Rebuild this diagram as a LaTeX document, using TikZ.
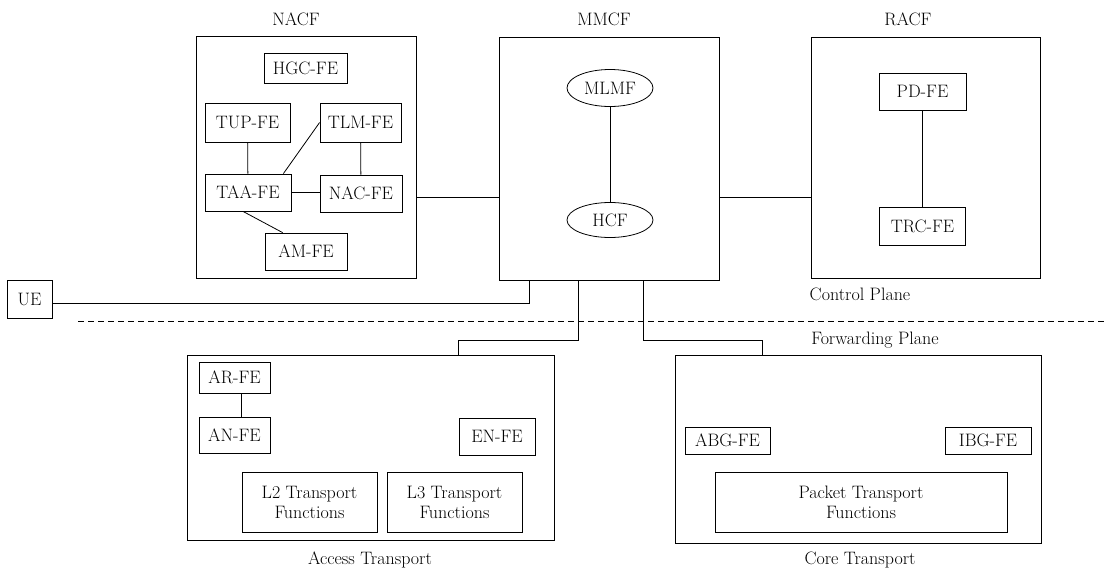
\documentclass[tikz,border=0pt]{standalone}
\usetikzlibrary{shapes.geometric,calc}
\begin{document}
\begin{tikzpicture}[x=1pt,y=-1pt,
  every node/.style={font=\fontsize{18}{20}\selectfont, inner sep=0pt},
  fe/.style={draw, line width=0.8pt, align=center},
  group/.style={draw, line width=0.8pt},
  ell/.style={draw, ellipse, line width=0.8pt},
  link/.style={line width=0.8pt},
  lbl/.style={}]
\useasboundingbox (0,0) rectangle (1105,570);
% control plane groups
\node[group, minimum width=220, minimum height=242] (NACF) at (306.5,157.5) {};
\node[group, minimum width=220, minimum height=243] (MMCF) at (609,158.5) {};
\node[group, minimum width=229, minimum height=241] (RACF) at (925.5,157.5) {};
\node[lbl] (nacfl) at (296,19) {NACF};
\node[lbl] (mmcfl) at (604,19) {MMCF};
\node[lbl] (racfl) at (908,19) {RACF};
% NACF contents
\node[fe, minimum width=83, minimum height=30] (HGC) at (305.5,68) {HGC-FE};
\node[fe, minimum width=85, minimum height=39] (TUP) at (247.5,122.5) {TUP-FE};
\node[fe, minimum width=81, minimum height=39] (TLM) at (360.5,122.5) {TLM-FE};
\node[fe, minimum width=86, minimum height=37] (TAA) at (248,192.5) {TAA-FE};
\node[fe, minimum width=82, minimum height=37] (NAC) at (361,193.5) {NAC-FE};
\node[fe, minimum width=82, minimum height=37] (AM) at (306,251.5) {AM-FE};
\draw[link] (TUP) -- (TAA);
\draw[link] (TLM.west) -- ($(TAA.north east)+(-8,0)$);
\draw[link] (TLM) -- (NAC);
\draw[link] (TAA.east) -- (NAC.west |- TAA.east);
\draw[link] ($(TAA.south)+(-5,0)$) -- ($(AM.north west)+(18,0)$);
% MMCF contents
\node[ell, minimum width=86, minimum height=37] (MLMF) at (610,88) {MLMF};
\node[ell, minimum width=86, minimum height=35] (HCF) at (610,220) {HCF};
\draw[link] (MLMF) -- (HCF);
% RACF contents
\node[fe, minimum width=87, minimum height=37] (PD) at (922.5,91.5) {PD-FE};
\node[fe, minimum width=86, minimum height=38] (TRC) at (922.5,226) {TRC-FE};
\draw[link] (PD) -- (TRC);
% inter-group links
\draw[link] ([yshift=-39.5pt]NACF.east) -- ([yshift=-39.5pt]NACF.east -| MMCF.west);
\draw[link] ([yshift=-38.5pt]MMCF.east) -- ([yshift=-38.5pt]MMCF.east -| RACF.west);
% UE
\node[fe, minimum width=45, minimum height=38] (UE) at (29.5,299) {UE};
\coordinate (s1) at ([xshift=-80pt]MMCF.south);
\coordinate (s2) at ([xshift=-31pt]MMCF.south);
\coordinate (s3) at ([xshift=34pt]MMCF.south);
\draw[link] ([yshift=-4pt]UE.east) -- ([yshift=-4pt]UE.east -| s1) -- (s1);
% planes
\coordinate (dl) at (78,321);
\coordinate (dr) at (1105,321);
\draw[line width=0.8pt, dash pattern=on 6pt off 4pt] (dl) -- (dr);
\node[lbl] (cp) at (860,294) {Control Plane};
\node[lbl] (fp) at (875,340) {Forwarding Plane};
% transport groups
\node[group, minimum width=367, minimum height=185] (ACC) at (370.5,447.5) {};
\node[group, minimum width=366, minimum height=188] (CORE) at (858,449) {};
\node[lbl] (accl) at (370,560) {Access Transport};
\node[lbl] (corel) at (860,560) {Core Transport};
\draw[link] (s2) -- ++(0,60) -| ([xshift=87.5pt]ACC.north);
\draw[link] (s3) -- ++(0,60) -| ([xshift=-96pt]CORE.north);
% access contents
\node[fe, minimum width=71, minimum height=31] (AR) at (234.5,377.5) {AR-FE};
\node[fe, minimum width=71, minimum height=36] (AN) at (234.5,435) {AN-FE};
\node[fe, minimum width=76, minimum height=37] (EN) at (497,436.5) {EN-FE};
\node[fe, minimum width=135, minimum height=60] (L2) at (309.5,502) {L2 Transport\\Functions};
\node[fe, minimum width=135, minimum height=60] (L3) at (454.5,502) {L3 Transport\\Functions};
\draw[link] ([xshift=6.5pt]AR.south) -- ([xshift=6.5pt]AN.north);
% core contents
\node[fe, minimum width=85, minimum height=27] (ABG) at (727.5,440.5) {ABG-FE};
\node[fe, minimum width=86, minimum height=27] (IBG) at (988,440.5) {IBG-FE};
\node[fe, minimum width=292, minimum height=60] (PKT) at (861,502) {Packet Transport\\Functions};
\end{tikzpicture}
\end{document}
